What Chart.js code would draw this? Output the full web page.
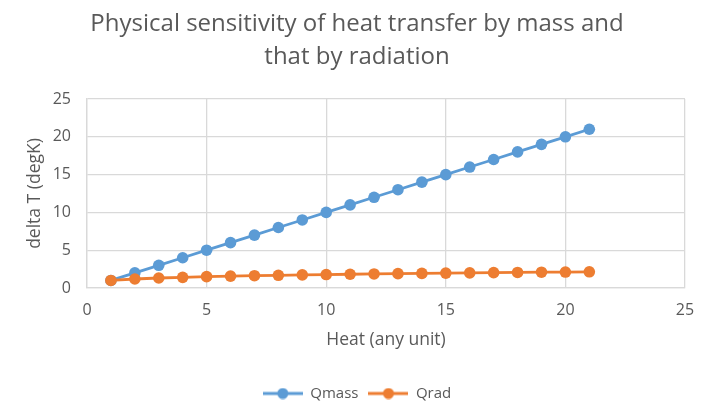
<!DOCTYPE html>
<html>
<head>
<meta charset="utf-8">
<script src="https://cdn.jsdelivr.net/npm/chart.js@4/dist/chart.umd.min.js"></script>
<style>
html,body{margin:0;padding:0;background:#fff;}
#wrap{width:714px;height:415px;}
</style>
</head>
<body>
<div id="wrap"><canvas id="c" width="714" height="415"></canvas></div>
<script>
const heat = [1,2,3,4,5,6,7,8,9,10,11,12,13,14,15,16,17,18,19,20,21];
const qmass = [1,2,3,4,5,6,7,8,9,10,11,12,13,14,15,16,17,18,19,20,21];
const qrad = [1,1.19,1.32,1.41,1.50,1.57,1.63,1.68,1.73,1.78,1.82,1.86,1.90,1.93,1.97,2.0,2.03,2.06,2.09,2.11,2.14];
const xTicks = [0,5,10,15,20,25];
const yTicks = [0,5,10,15,20,25];
const seriesNames = ['Qmass','Qrad'];
const titleLines = ['Physical sensitivity of heat transfer by mass and','that by radiation'];
const xTitle = 'Heat (any unit)';
const yTitle = 'delta T (degK)';

const BLUE = '#5B9BD5', ORANGE = '#ED7D31', TXT = '#595959', GRID = '#D9D9D9';
const FONT = "'Open Sans', 'Liberation Sans', sans-serif";

function legendIcon(color){
  const cv = document.createElement('canvas');
  cv.width = 40; cv.height = 12;
  const g = cv.getContext('2d');
  g.strokeStyle = color; g.lineWidth = 2.8;
  g.beginPath(); g.moveTo(0,6); g.lineTo(40,6); g.stroke();
  g.fillStyle = color;
  g.beginPath(); g.arc(20,6,5.5,0,Math.PI*2); g.fill();
  return cv;
}
const icons = [legendIcon(BLUE), legendIcon(ORANGE)];

const toPts = (xs, ys) => xs.map((x,i)=>({x:x,y:ys[i]}));

new Chart(document.getElementById('c'), {
  type: 'scatter',
  data: {
    datasets: [
      {label: seriesNames[0], data: toPts(heat, qmass), showLine: true, borderColor: BLUE, backgroundColor: BLUE,
       borderWidth: 2.8, pointRadius: 5.8, pointHoverRadius: 5.8, pointBorderWidth: 0, order: 2},
      {label: seriesNames[1], data: toPts(heat, qrad), showLine: true, borderColor: ORANGE, backgroundColor: ORANGE,
       borderWidth: 2.8, pointRadius: 5.8, pointHoverRadius: 5.8, pointBorderWidth: 0, order: 1}
    ]
  },
  options: {
    responsive: false,
    animation: false,
    layout: {padding: {left: 0, right: 0, top: 0, bottom: 4}},
    plugins: {
      tooltip: {enabled: false},
      title: {
        display: true, text: titleLines, color: TXT,
        font: {family: FONT, size: 24, weight: 'normal', lineHeight: '33px'},
        padding: {top: 8, bottom: 25}
      },
      legend: {
        position: 'bottom',
        labels: {
          color: TXT, font: {family: FONT, size: 15},
          usePointStyle: true, pointStyleWidth: 40, padding: 10,
          generateLabels: (chart) => chart.data.datasets.map((ds,i)=>({
            text: ds.label, pointStyle: icons[i], fillStyle: ds.borderColor, strokeStyle: ds.borderColor,
            lineWidth: 0, datasetIndex: i, hidden: false, fontColor: TXT
          }))
        }
      }
    },
    scales: {
      x: {
        type: 'linear', min: 0, max: 25,
        afterBuildTicks: (s) => { s.ticks = xTicks.map(v=>({value:v})); },
        ticks: {color: TXT, font: {family: FONT, size: 16}, padding: 13},
        grid: {color: GRID, lineWidth: 1.3, drawTicks: false},
        border: {color: GRID, width: 1.3},
        title: {display: true, text: xTitle, color: TXT, font: {family: FONT, size: 17.5}, padding: {top: 0, bottom: 25.5}},
        afterFit: (s) => { s.height = 88; }
      },
      y: {
        type: 'linear', min: 0, max: 25,
        afterBuildTicks: (s) => { s.ticks = yTicks.map(v=>({value:v})); },
        ticks: {color: TXT, font: {family: FONT, size: 16}, padding: 16},
        grid: {color: GRID, lineWidth: 1.3, drawTicks: false},
        border: {color: GRID, width: 1.3},
        title: {display: true, text: yTitle, color: TXT, font: {family: FONT, size: 17.5}, padding: {top: 24.5, bottom: 0}},
        afterFit: (s) => { s.width = 87; }
      },
      yPad: {
        type: 'linear', position: 'right', min: 0, max: 1, display: true,
        ticks: {display: false}, grid: {display: false, drawTicks: false}, border: {display: false},
        afterFit: (s) => { s.width = 29; }
      }
    }
  }
});
</script>
</body>
</html>
